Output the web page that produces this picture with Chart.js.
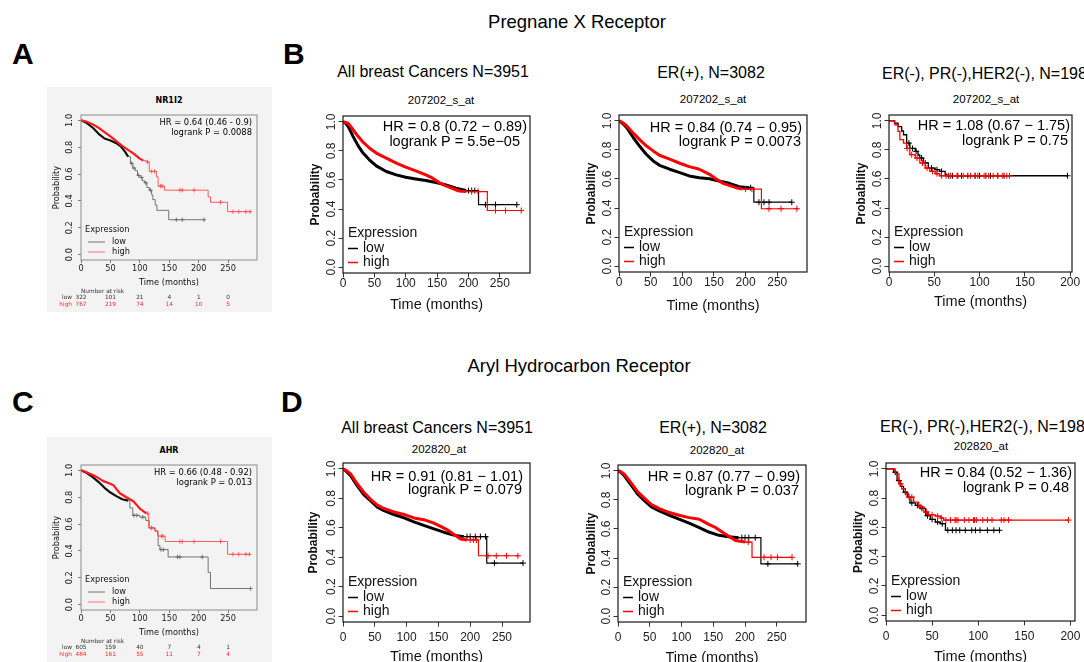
<!DOCTYPE html>
<html><head><meta charset="utf-8">
<script src="https://cdn.jsdelivr.net/npm/chart.js@4.4.1/dist/chart.umd.min.js"></script>
<style>
html,body{margin:0;padding:0;background:#fff;overflow:hidden;}
#page{position:relative;width:1084px;height:662px;overflow:hidden;background:#fff;}
.t{position:absolute;white-space:nowrap;line-height:1;color:#000;font-family:"Liberation Sans",Arial,Helvetica,sans-serif;}
.c{transform:translate(-50%,-50%);}
.l{transform:translate(0,-50%);}
canvas{position:absolute;}
.grey{position:absolute;background:#f3f3f3;}
</style></head><body><div id="page"></div>
<script>
// ---------------- TEXT / TICKS ----------------
const receptorTitles = ['Pregnane X Receptor', 'Aryl Hydrocarbon Receptor'];
const cohortTitles = ['All breast Cancers N=3951', 'ER(+), N=3082', 'ER(-), PR(-),HER2(-), N=198'];
const probeIds = ['207202_s_at', '202820_at'];
const geneNames = ['NR1I2', 'AHR'];
const panelLetters = ['A', 'B', 'C', 'D'];
const groupNames = ['low', 'high'];
const legendTitle = 'Expression';
const xAxisTitle = 'Time (months)';
const yAxisTitle = 'Probability';
const riskTitle = 'Number at risk';
const xTicksLong = [0, 50, 100, 150, 200, 250];
const xTicksShort = [0, 50, 100, 150, 200];
const yTicks = [0, 0.2, 0.4, 0.6, 0.8, 1.0];

// ---------------- A: NR1I2 ----------------
const nr1i2Stats = ['HR = 0.64 (0.46 - 0.9)', 'logrank P = 0.0088'];
const nr1i2LowBody = [[0,1],[10,0.98],[20,0.945],[30,0.9],[40,0.865],[50,0.85],[60,0.83],[68,0.805],[75,0.765],[80,0.73]];
const nr1i2LowTail = [[80,0.73],[84,0.68],[88,0.645],[92,0.625],[96,0.59],[100,0.575],[104,0.55],[108,0.535],[112,0.5],[116,0.48],[120,0.445],[122,0.41],[126,0.37],[129,0.33],[149,0.26],[210,0.26]];
const nr1i2LowCensor = [86, 90, 98, 103, 110, 118, 162, 172, 209];
const nr1i2HighBody = [[0,1],[10,0.99],[20,0.97],[30,0.945],[40,0.912],[50,0.88],[60,0.845],[70,0.81],[80,0.78],[90,0.75],[100,0.715],[106,0.70]];
const nr1i2HighTail = [[106,0.70],[111,0.69],[116,0.62],[128,0.58],[131,0.51],[142,0.48],[216,0.43],[220,0.39],[249,0.32],[290,0.32]];
const nr1i2HighCensor = [113, 120, 125, 135, 138, 168, 172, 192, 237, 258, 268, 280, 287];
const nr1i2RiskLow = [322, 101, 21, 4, 1, 0];
const nr1i2RiskHigh = [767, 219, 74, 14, 10, 5];

// ---------------- C: AHR ----------------
const ahrStats = ['HR = 0.66 (0.48 - 0.92)', 'logrank P = 0.013'];
const ahrLowBody = [[0,1],[10,0.98],[20,0.95],[30,0.913],[40,0.87],[50,0.835],[60,0.808],[70,0.785],[80,0.775]];
const ahrLowTail = [[80,0.775],[83,0.72],[88,0.665],[100,0.652],[110,0.627],[116,0.572],[126,0.547],[130,0.52],[131,0.44],[134,0.41],[148,0.355],[213,0.355],[216,0.24],[220,0.12],[288,0.12]];
const ahrLowCensor = [90, 95, 105, 120, 136, 140, 164, 168, 206, 288];
const ahrHighBody = [[0,1],[10,0.985],[20,0.965],[27,0.95],[38,0.92],[50,0.9],[55,0.89],[66,0.83],[77,0.8],[89,0.77],[100,0.715],[111,0.68]];
const ahrHighTail = [[111,0.68],[115,0.57],[125,0.55],[131,0.51],[143,0.47],[249,0.375],[288,0.375]];
const ahrHighCensor = [113, 120, 137, 139, 168, 172, 192, 237, 258, 268, 280, 286];
const ahrRiskLow = [605, 159, 40, 7, 4, 1];
const ahrRiskHigh = [484, 161, 55, 11, 7, 4];

// ---------------- B1: PXR all ----------------
const pxrAllStats = ['HR = 0.8 (0.72 \u2212 0.89)', 'logrank P = 5.5e\u221205'];
const pxrAllLowBody = [[0,1],[4,0.99],[8,0.97],[16,0.9],[24,0.836],[32,0.785],[42,0.739],[53,0.697],[69,0.658],[85,0.635],[100,0.619],[116,0.607],[132,0.596],[148,0.582],[164,0.566],[180,0.543],[196,0.527]];
const pxrAllLowTail = [[196,0.527],[216,0.43],[277,0.43]];
const pxrAllLowCensor = [200, 205, 210, 227, 243, 277];
const pxrAllHighBody = [[0,1],[4,0.995],[8,0.99],[16,0.947],[24,0.9],[32,0.86],[42,0.82],[53,0.785],[69,0.75],[85,0.716],[100,0.688],[116,0.663],[132,0.635],[143,0.612],[153,0.582],[164,0.559],[174,0.543],[185,0.524],[196,0.52]];
const pxrAllHighTail = [[196,0.52],[230,0.39],[285,0.39]];
const pxrAllHighCensor = [205, 215, 243, 259, 284];

// ---------------- B2: PXR ER+ ----------------
const pxrErStats = ['HR = 0.84 (0.74 \u2212 0.95)', 'logrank P = 0.0073'];
const pxrErLowBody = [[0,1],[5,0.985],[12,0.954],[22.5,0.885],[33,0.823],[43,0.77],[54,0.724],[64,0.694],[80,0.667],[96,0.644],[111,0.621],[127,0.609],[143,0.602],[158,0.586],[174,0.57],[190,0.547],[206,0.54]];
const pxrErLowTail = [[206,0.54],[213,0.44],[273,0.44]];
const pxrErLowCensor = [208, 221, 229, 237, 273];
const pxrErHighBody = [[0,1],[5,0.99],[12,0.966],[22.5,0.915],[33,0.869],[43,0.828],[54,0.793],[64,0.763],[80,0.736],[96,0.708],[111,0.685],[127,0.667],[143,0.632],[153,0.602],[164,0.57],[174,0.556],[185,0.54],[195,0.53]];
const pxrErHighTail = [[195,0.53],[225,0.395],[283,0.395]];
const pxrErHighCensor = [200, 210, 237, 256, 281];

// ---------------- B3: PXR triple negative ----------------
const pxrTnStats = ['HR = 1.08 (0.67 \u2212 1.75)', 'logrank P = 0.75'];
const pxrTnLowTail = [[0,1],[6,0.984],[10,0.96],[14,0.93],[16,0.904],[19.5,0.847],[23,0.81],[29,0.79],[32,0.765],[34,0.744],[38,0.71],[43.5,0.675],[51,0.664],[56,0.652],[62,0.63],[64,0.622],[197,0.622]];
const pxrTnLowCensor = [22, 26, 30, 36, 40, 47, 53, 58, 66, 70, 76, 80, 87, 95, 100, 107, 112, 120, 127, 197];
const pxrTnHighTail = [[0,1],[6.5,0.973],[10,0.927],[12,0.87],[16,0.847],[19.5,0.81],[23,0.767],[29,0.744],[34,0.71],[40,0.675],[45,0.652],[51,0.636],[56,0.622],[133,0.622]];
const pxrTnHighCensor = [20, 25, 31, 37, 42, 48, 53, 58, 63, 68, 75, 82, 90, 95, 98, 105, 110, 115, 120, 125, 130, 133];

// ---------------- D1: AHR all ----------------
const ahrAllStats = ['HR = 0.91 (0.81 \u2212 1.01)', 'logrank P = 0.079'];
const ahrAllLowBody = [[0,1],[5,0.985],[12,0.954],[22.5,0.885],[33,0.823],[43.5,0.782],[54,0.74],[64.5,0.717],[80,0.69],[96,0.667],[111.5,0.64],[127,0.616],[143,0.593],[158.5,0.57],[174,0.55],[190,0.54]];
const ahrAllLowTail = [[190,0.54],[226,0.36],[283,0.36]];
const ahrAllLowCensor = [195, 200, 208, 216, 224, 238, 283];
const ahrAllHighBody = [[0,1],[5,0.99],[12,0.966],[22.5,0.897],[33,0.84],[43.5,0.793],[54,0.754],[64.5,0.731],[80,0.708],[96,0.69],[111.5,0.667],[127,0.655],[143,0.632],[153.5,0.609],[164,0.586],[174,0.556],[185,0.524],[195,0.517]];
const ahrAllHighTail = [[195,0.517],[213,0.41],[277,0.41]];
const ahrAllHighCensor = [200, 205, 210, 228, 241, 257, 275];

// ---------------- D2: AHR ER+ ----------------
const ahrErStats = ['HR = 0.87 (0.77 \u2212 0.99)', 'logrank P = 0.037'];
const ahrErLowBody = [[0,1],[4,0.99],[10,0.966],[21,0.9],[31,0.84],[42,0.793],[52,0.754],[65,0.724],[81,0.694],[96,0.667],[112,0.64],[128,0.609],[143,0.579],[159,0.556],[174,0.547],[190,0.54]];
const ahrErLowTail = [[190,0.54],[225,0.36],[283,0.36]];
const ahrErLowCensor = [195, 200, 206, 216, 236, 283];
const ahrErHighBody = [[0,1],[4,0.995],[10,0.977],[21,0.915],[31,0.855],[42,0.81],[52,0.77],[65,0.74],[81,0.713],[96,0.694],[112,0.678],[128,0.667],[143,0.632],[154,0.609],[164,0.579],[174,0.552],[185,0.52],[200,0.51]];
const ahrErHighTail = [[200,0.51],[211,0.405],[274,0.405]];
const ahrErHighCensor = [205, 230, 241, 251, 274];

// ---------------- D3: AHR triple negative ----------------
const ahrTnStats = ['HR = 0.84 (0.52 \u2212 1.36)', 'logrank P = 0.48'];
const ahrTnLowTail = [[0,1],[6.5,1],[8.3,0.977],[12,0.92],[15.5,0.88],[19,0.84],[23,0.807],[26,0.768],[32,0.75],[37,0.73],[43,0.68],[48,0.655],[53.5,0.636],[59,0.625],[64.5,0.58],[123,0.58]];
const ahrTnLowCensor = [10, 14, 21, 28, 34, 39, 45, 50, 56, 61, 67, 72, 76, 80, 86, 93, 97, 102, 110, 117, 123];
const ahrTnHighTail = [[0,1],[8.3,1],[10,0.966],[14,0.898],[17,0.864],[21,0.83],[24.5,0.807],[30,0.773],[35.5,0.74],[41,0.705],[46,0.686],[53.5,0.677],[59,0.664],[62.5,0.65],[198,0.65]];
const ahrTnHighCensor = [16, 25, 28, 38, 44, 50, 56, 60, 65, 70, 75, 76, 78, 85, 90, 95, 96, 98, 105, 110, 115, 125, 128, 133, 198];

// ---------------- STYLES / LAYOUT ----------------
const STYLES = {
  big: {family:'"Liberation Sans", Arial, Helvetica, sans-serif', tick:12, axisTitle:14.5, yTitle:12, yBold:'bold', stats:14.5, legend:14,
        tl:4.5, boxColor:'#1a1a1a', boxWidth:1.2, tickColor:'#333', labelColor:'#222',
        bodyWidth:3, tailWidth:1.2, censorR:3, censorW:1,
        lowColor:'#000', highColor:'#ff0000', lowTail:'#000', highTail:'#ff0000', legLow:'#000', legHigh:'#ff0000',
        leg:{x0:5, lx0:5, x1:15, tx:20, dy:[-39.5,-24.5,-10.5], lw:1.5}},
  small: {family:'"DejaVu Sans", sans-serif', tick:8.2, axisTitle:8.2, yTitle:8.2, yBold:'normal', stats:8.4, legend:8.2,
        tl:3, boxColor:'#8c8c8c', boxWidth:1, tickColor:'#777', labelColor:'#222',
        bodyWidth:2.2, tailWidth:0.9, censorR:2.2, censorW:0.8,
        lowColor:'#111', highColor:'#ff1a1a', lowTail:'#666', highTail:'#ff4d4d', legLow:'#777', legHigh:'#ff7070',
        leg:{x0:4, lx0:7, x1:24, tx:31, dy:[-30,-18,-8], lw:1}}
};

const PANELS = [
  {kind:'small', box:[81,115,257,260], xmax:299, xTicks:xTicksLong, stats:nr1i2Stats,
   low:{body:nr1i2LowBody, tail:nr1i2LowTail, censor:nr1i2LowCensor}, high:{body:nr1i2HighBody, tail:nr1i2HighTail, censor:nr1i2HighCensor},
   risk:[nr1i2RiskLow, nr1i2RiskHigh], off:{xLab:9, xTitle:23, yLab:11, yTitle:24, hr:[5,8], lp:[5,18]}},
  {kind:'small', box:[81,465,257,610], xmax:299, xTicks:xTicksLong, stats:ahrStats,
   low:{body:ahrLowBody, tail:ahrLowTail, censor:ahrLowCensor}, high:{body:ahrHighBody, tail:ahrHighTail, censor:ahrHighCensor},
   risk:[ahrRiskLow, ahrRiskHigh], off:{xLab:9, xTitle:23, yLab:11, yTitle:24, hr:[5,8], lp:[5,18]}},
  {kind:'big', box:[343,116,530,273], xmax:298, xTicks:xTicksLong, stats:pxrAllStats,
   low:{body:pxrAllLowBody, tail:pxrAllLowTail, censor:pxrAllLowCensor}, high:{body:pxrAllHighBody, tail:pxrAllHighTail, censor:pxrAllHighCensor},
   off:{xLab:11, xTitle:32, yLab:11, yTitle:27, hr:[3,11], lp:[10,26]}},
  {kind:'big', box:[619,115,807,272], xmax:297, xTicks:xTicksLong, stats:pxrErStats,
   low:{body:pxrErLowBody, tail:pxrErLowTail, censor:pxrErLowCensor}, high:{body:pxrErHighBody, tail:pxrErHighTail, censor:pxrErHighCensor},
   off:{xLab:11, xTitle:34, yLab:11, yTitle:27, hr:[5,13], lp:[6,27]}},
  {kind:'big', tn:true, box:[889,115,1072,272], xmax:202, xTicks:xTicksShort, stats:pxrTnStats,
   low:{body:[], tail:pxrTnLowTail, censor:pxrTnLowCensor}, high:{body:[], tail:pxrTnHighTail, censor:pxrTnHighCensor},
   off:{xLab:11, xTitle:30, yLab:11, yTitle:27, hr:[2,11], lp:[4,26]}},
  {kind:'big', box:[343,463,530,622], xmax:294, xTicks:xTicksLong, stats:ahrAllStats,
   low:{body:ahrAllLowBody, tail:ahrAllLowTail, censor:ahrAllLowCensor}, high:{body:ahrAllHighBody, tail:ahrAllHighTail, censor:ahrAllHighCensor},
   off:{xLab:16, xTitle:35, yLab:11, yTitle:29, hr:[7,14], lp:[8,27]}},
  {kind:'big', box:[618,465,806,622], xmax:296, xTicks:xTicksLong, stats:ahrErStats,
   low:{body:ahrErLowBody, tail:ahrErLowTail, censor:ahrErLowCensor}, high:{body:ahrErHighBody, tail:ahrErHighTail, censor:ahrErHighCensor},
   off:{xLab:16, xTitle:36, yLab:11, yTitle:26, hr:[6,12], lp:[7,26]}},
  {kind:'big', tn:true, box:[886,463,1075,621], xmax:205, xTicks:xTicksShort, stats:ahrTnStats,
   low:{body:[], tail:ahrTnLowTail, censor:ahrTnLowCensor}, high:{body:[], tail:ahrTnHighTail, censor:ahrTnHighCensor},
   off:{xLab:16, xTitle:36, yLab:11, yTitle:27, hr:[3,10], lp:[6,25]}}
];

// ---------------- BUILD ----------------
const page = document.getElementById('page');
const measure = document.createElement('canvas').getContext('2d');

function addText(txt, x, y, size, o = {}) {
  const d = document.createElement('div');
  d.className = 't ' + (o.anchor || 'c');
  d.textContent = txt;
  d.style.left = x + 'px'; d.style.top = y + 'px'; d.style.fontSize = size + 'px';
  if (o.bold) d.style.fontWeight = 'bold';
  if (o.family) d.style.fontFamily = o.family;
  page.appendChild(d);
}
function addGrey(x, y, w, h) {
  const d = document.createElement('div');
  d.className = 'grey';
  d.style.left = x + 'px'; d.style.top = y + 'px'; d.style.width = w + 'px'; d.style.height = h + 'px';
  page.appendChild(d);
}
function stepAt(pts, t) {
  let s = pts[0][1];
  for (const p of pts) { if (p[0] <= t) s = p[1]; else break; }
  return s;
}
function toXY(pts) { return pts.map(p => ({x: p[0], y: p[1]})); }

function curveSets(curve, color, tailColor, st, tailW, order) {
  const sets = [];
  if (curve.body.length) {
    sets.push({data: toXY(curve.body), borderColor: color, borderWidth: st.bodyWidth, pointRadius: 0,
      stepped: false, tension: 0, order, borderJoinStyle: 'round', fill: false});
  }
  sets.push({data: toXY(curve.tail), borderColor: tailColor, borderWidth: tailW, pointRadius: 0,
    stepped: true, order, fill: false});
  sets.push({data: curve.censor.map(t => ({x: t, y: stepAt(curve.tail, t)})), showLine: false,
    pointStyle: 'cross', pointRadius: st.censorR, pointBorderWidth: st.censorW,
    pointBorderColor: tailColor, pointBackgroundColor: tailColor, borderColor: tailColor, order});
  return sets;
}

function build(p) {
  const st = STYLES[p.kind];
  const o = p.off;
  const [l, t, r, b] = p.box;
  const W = 45, TOP = 6, RIGHT = 22, H = p.risk ? 52 : 46;
  const cw = (r - l) + W + RIGHT, chh = (b - t) + TOP + H;
  const cv = document.createElement('canvas');
  cv.width = cw; cv.height = chh;
  cv.style.left = (l - W) + 'px'; cv.style.top = (t - TOP) + 'px';
  cv.style.width = cw + 'px'; cv.style.height = chh + 'px';
  page.appendChild(cv);

  measure.font = st.tick + 'px ' + st.family;
  const widest = Math.max(...yTicks.map(v => measure.measureText(v.toFixed(1)).width));
  const tailW = p.tn ? 1.3 : st.tailWidth;
  const datasets = [
    ...curveSets(p.high, st.highColor, st.highTail, st, tailW, 1),
    ...curveSets(p.low, st.lowColor, st.lowTail, st, tailW, 2)
  ];
  const tickFont = {family: st.family, size: st.tick};
  const gridOpts = {display: true, drawOnChartArea: false, drawTicks: true, tickLength: st.tl, color: st.tickColor, lineWidth: 1};

  new Chart(cv, {
    type: 'line',
    data: {datasets},
    options: {
      responsive: false, animation: false, devicePixelRatio: 1, events: [],
      layout: {padding: {left: 0, top: TOP, right: RIGHT, bottom: 0}},
      plugins: {legend: {display: false}, tooltip: {enabled: false}, title: {display: false}},
      scales: {
        x: {type: 'linear', position: 'bottom', min: 0, max: p.xmax,
          afterBuildTicks: s => { s.ticks = p.xTicks.map(v => ({value: v})); },
          afterFit: s => { s.height = H; s.paddingLeft = 0; s.paddingRight = 0; },
          ticks: {autoSkip: false, maxRotation: 0, minRotation: 0, padding: o.xLab - st.tl - 0.6 * st.tick,
            font: tickFont, color: st.labelColor, callback: v => String(v)},
          grid: gridOpts, border: {display: false},
          title: {display: true, text: xAxisTitle, color: '#111', font: {family: st.family, size: st.axisTitle},
            padding: {top: 0, bottom: H - o.xTitle - st.axisTitle * 0.6}}
        },
        y: {type: 'linear', position: 'left', min: -0.04, max: 1.04,
          afterBuildTicks: s => { s.ticks = yTicks.map(v => ({value: v})); },
          afterFit: s => { s.width = W; s.paddingTop = 0; s.paddingBottom = 0; },
          ticks: {autoSkip: false, minRotation: 90, maxRotation: 90, crossAlign: 'center',
            padding: o.yLab - st.tl - widest / 2, font: tickFont, color: st.labelColor, callback: v => v.toFixed(1)},
          grid: gridOpts, border: {display: false},
          title: {display: true, text: yAxisTitle, color: '#111', font: {family: st.family, size: st.yTitle, weight: st.yBold},
            padding: {top: W - o.yTitle - st.yTitle * 0.6, bottom: 0}}
        }
      }
    },
    plugins: [{
      id: 'kmDecor',
      afterDraw(chart) {
        const ctx = chart.ctx, a = chart.chartArea;
        ctx.save();
        ctx.strokeStyle = st.boxColor; ctx.lineWidth = st.boxWidth;
        ctx.strokeRect(a.left, a.top, a.right - a.left, a.bottom - a.top);
        ctx.fillStyle = '#000'; ctx.textBaseline = 'middle'; ctx.textAlign = 'right';
        ctx.font = st.stats + 'px ' + st.family;
        ctx.fillText(p.stats[0], a.right - o.hr[0], a.top + o.hr[1]);
        ctx.fillText(p.stats[1], a.right - o.lp[0], a.top + o.lp[1]);
        const L = st.leg;
        ctx.textAlign = 'left'; ctx.font = st.legend + 'px ' + st.family; ctx.fillStyle = '#111';
        ctx.fillText(legendTitle, a.left + L.x0, a.bottom + L.dy[0]);
        [st.legLow, st.legHigh].forEach((col, i) => {
          const y = a.bottom + L.dy[i + 1];
          ctx.strokeStyle = col; ctx.lineWidth = L.lw;
          ctx.beginPath(); ctx.moveTo(a.left + L.lx0, y); ctx.lineTo(a.left + L.x1, y); ctx.stroke();
          ctx.fillStyle = '#111'; ctx.fillText(groupNames[i], a.left + L.tx, y);
        });
        if (p.risk) {
          const xs = chart.scales.x;
          ctx.font = '5.8px ' + st.family; ctx.textAlign = 'left'; ctx.fillStyle = '#333';
          ctx.fillText(riskTitle, a.left, a.bottom + 31);
          const rowColors = ['#333', '#ff2a2a'];
          p.risk.forEach((row, i) => {
            const y = a.bottom + 37 + i * 7;
            ctx.fillStyle = rowColors[i];
            ctx.textAlign = 'right'; ctx.fillText(groupNames[i], a.left - 9, y);
            ctx.textAlign = 'center';
            row.forEach((n, j) => ctx.fillText(String(n), xs.getPixelForValue(p.xTicks[j]), y));
          });
        }
        ctx.restore();
      }
    }]
  });
}

// grey backgrounds of panels A and C
addGrey(47, 87, 225, 225);
addGrey(47, 437, 225, 225);

PANELS.forEach(build);

// headings
addText(receptorTitles[0], 577, 22, 18.5);
addText(receptorTitles[1], 579, 366, 18.5);
addText(cohortTitles[0], 433, 72, 16);
addText(cohortTitles[1], 711, 73, 16);
addText(cohortTitles[2], 882, 74, 16, {anchor: 'l'});
addText(cohortTitles[0], 437, 428, 16);
addText(cohortTitles[1], 713, 428, 16);
addText(cohortTitles[2], 880, 427, 16, {anchor: 'l'});
addText(probeIds[0], 441, 101, 11.5);
addText(probeIds[0], 713, 100, 11.5);
addText(probeIds[0], 986, 100, 11.5);
addText(probeIds[1], 439, 450, 11.5);
addText(probeIds[1], 717, 451, 11.5);
addText(probeIds[1], 981, 447, 11.5);
addText(geneNames[0], 169, 101, 8, {bold: true, family: '"DejaVu Sans", sans-serif'});
addText(geneNames[1], 169, 451, 8, {bold: true, family: '"DejaVu Sans", sans-serif'});
addText(panelLetters[0], 12, 54, 30, {anchor: 'l', bold: true});
addText(panelLetters[1], 283, 54, 30, {anchor: 'l', bold: true});
addText(panelLetters[2], 12, 402, 30, {anchor: 'l', bold: true});
addText(panelLetters[3], 281, 402, 30, {anchor: 'l', bold: true});
</script>
</body></html>
